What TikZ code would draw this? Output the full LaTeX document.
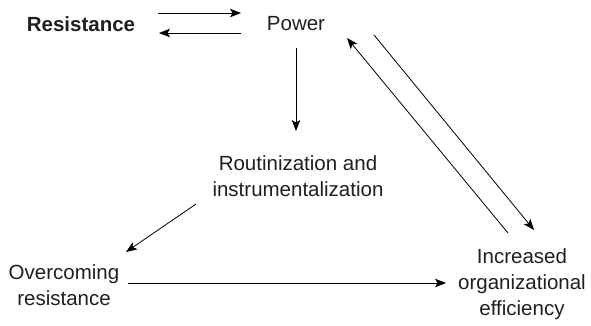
\documentclass[tikz,border=0pt]{standalone}
\usepackage{fontspec}
\setmainfont{Liberation Sans}
\usetikzlibrary{arrows.meta}
\begin{document}
\begin{tikzpicture}[x=1pt,y=-1pt,
  label/.style={inner sep=0pt,align=center,text=black!88,font=\fontsize{20.5}{26}\selectfont},
  conn/.style={line width=0.8pt,-{Stealth[length=11pt,width=8.5pt,inset=2.5pt]}}]
\useasboundingbox (0,0) rectangle (591,325);

% concepts
\node[label,font=\fontsize{20.5}{26}\selectfont\bfseries] (res) at (81,24) {Resistance};
\node[label] (pow) at (296,24) {Power};
\node[label] (rout) at (298,176) {Routinization and\\instrumentalization};
\node[label] (over) at (64,285) {Overcoming\\resistance};
\node[label] (eff) at (522,284) {Increased\\organizational\\efficiency};

% free ends of the connectors
\coordinate (rp1) at (158,13);  \coordinate (rp2) at (241,13);
\coordinate (pr1) at (241,33);  \coordinate (pr2) at (159,33);
\coordinate (pd1) at (296,48);  \coordinate (pd2) at (296,131);
\coordinate (ro1) at (196,204); \coordinate (ro2) at (126,252);
\coordinate (oe1) at (128,283); \coordinate (oe2) at (446,283);
\coordinate (ep1) at (508,233); \coordinate (ep2) at (347,38);
\coordinate (pe1) at (374,35);  \coordinate (pe2) at (534,230);

% connectors
\draw[conn] (rp1) -- (rp2);
\draw[conn] (pr1) -- (pr2);
\draw[conn] (pd1) -- (pd2);
\draw[conn] (ro1) -- (ro2);
\draw[conn] (oe1) -- (oe2);
\draw[conn] (ep1) -- (ep2);
\draw[conn] (pe1) -- (pe2);
\end{tikzpicture}
\end{document}
